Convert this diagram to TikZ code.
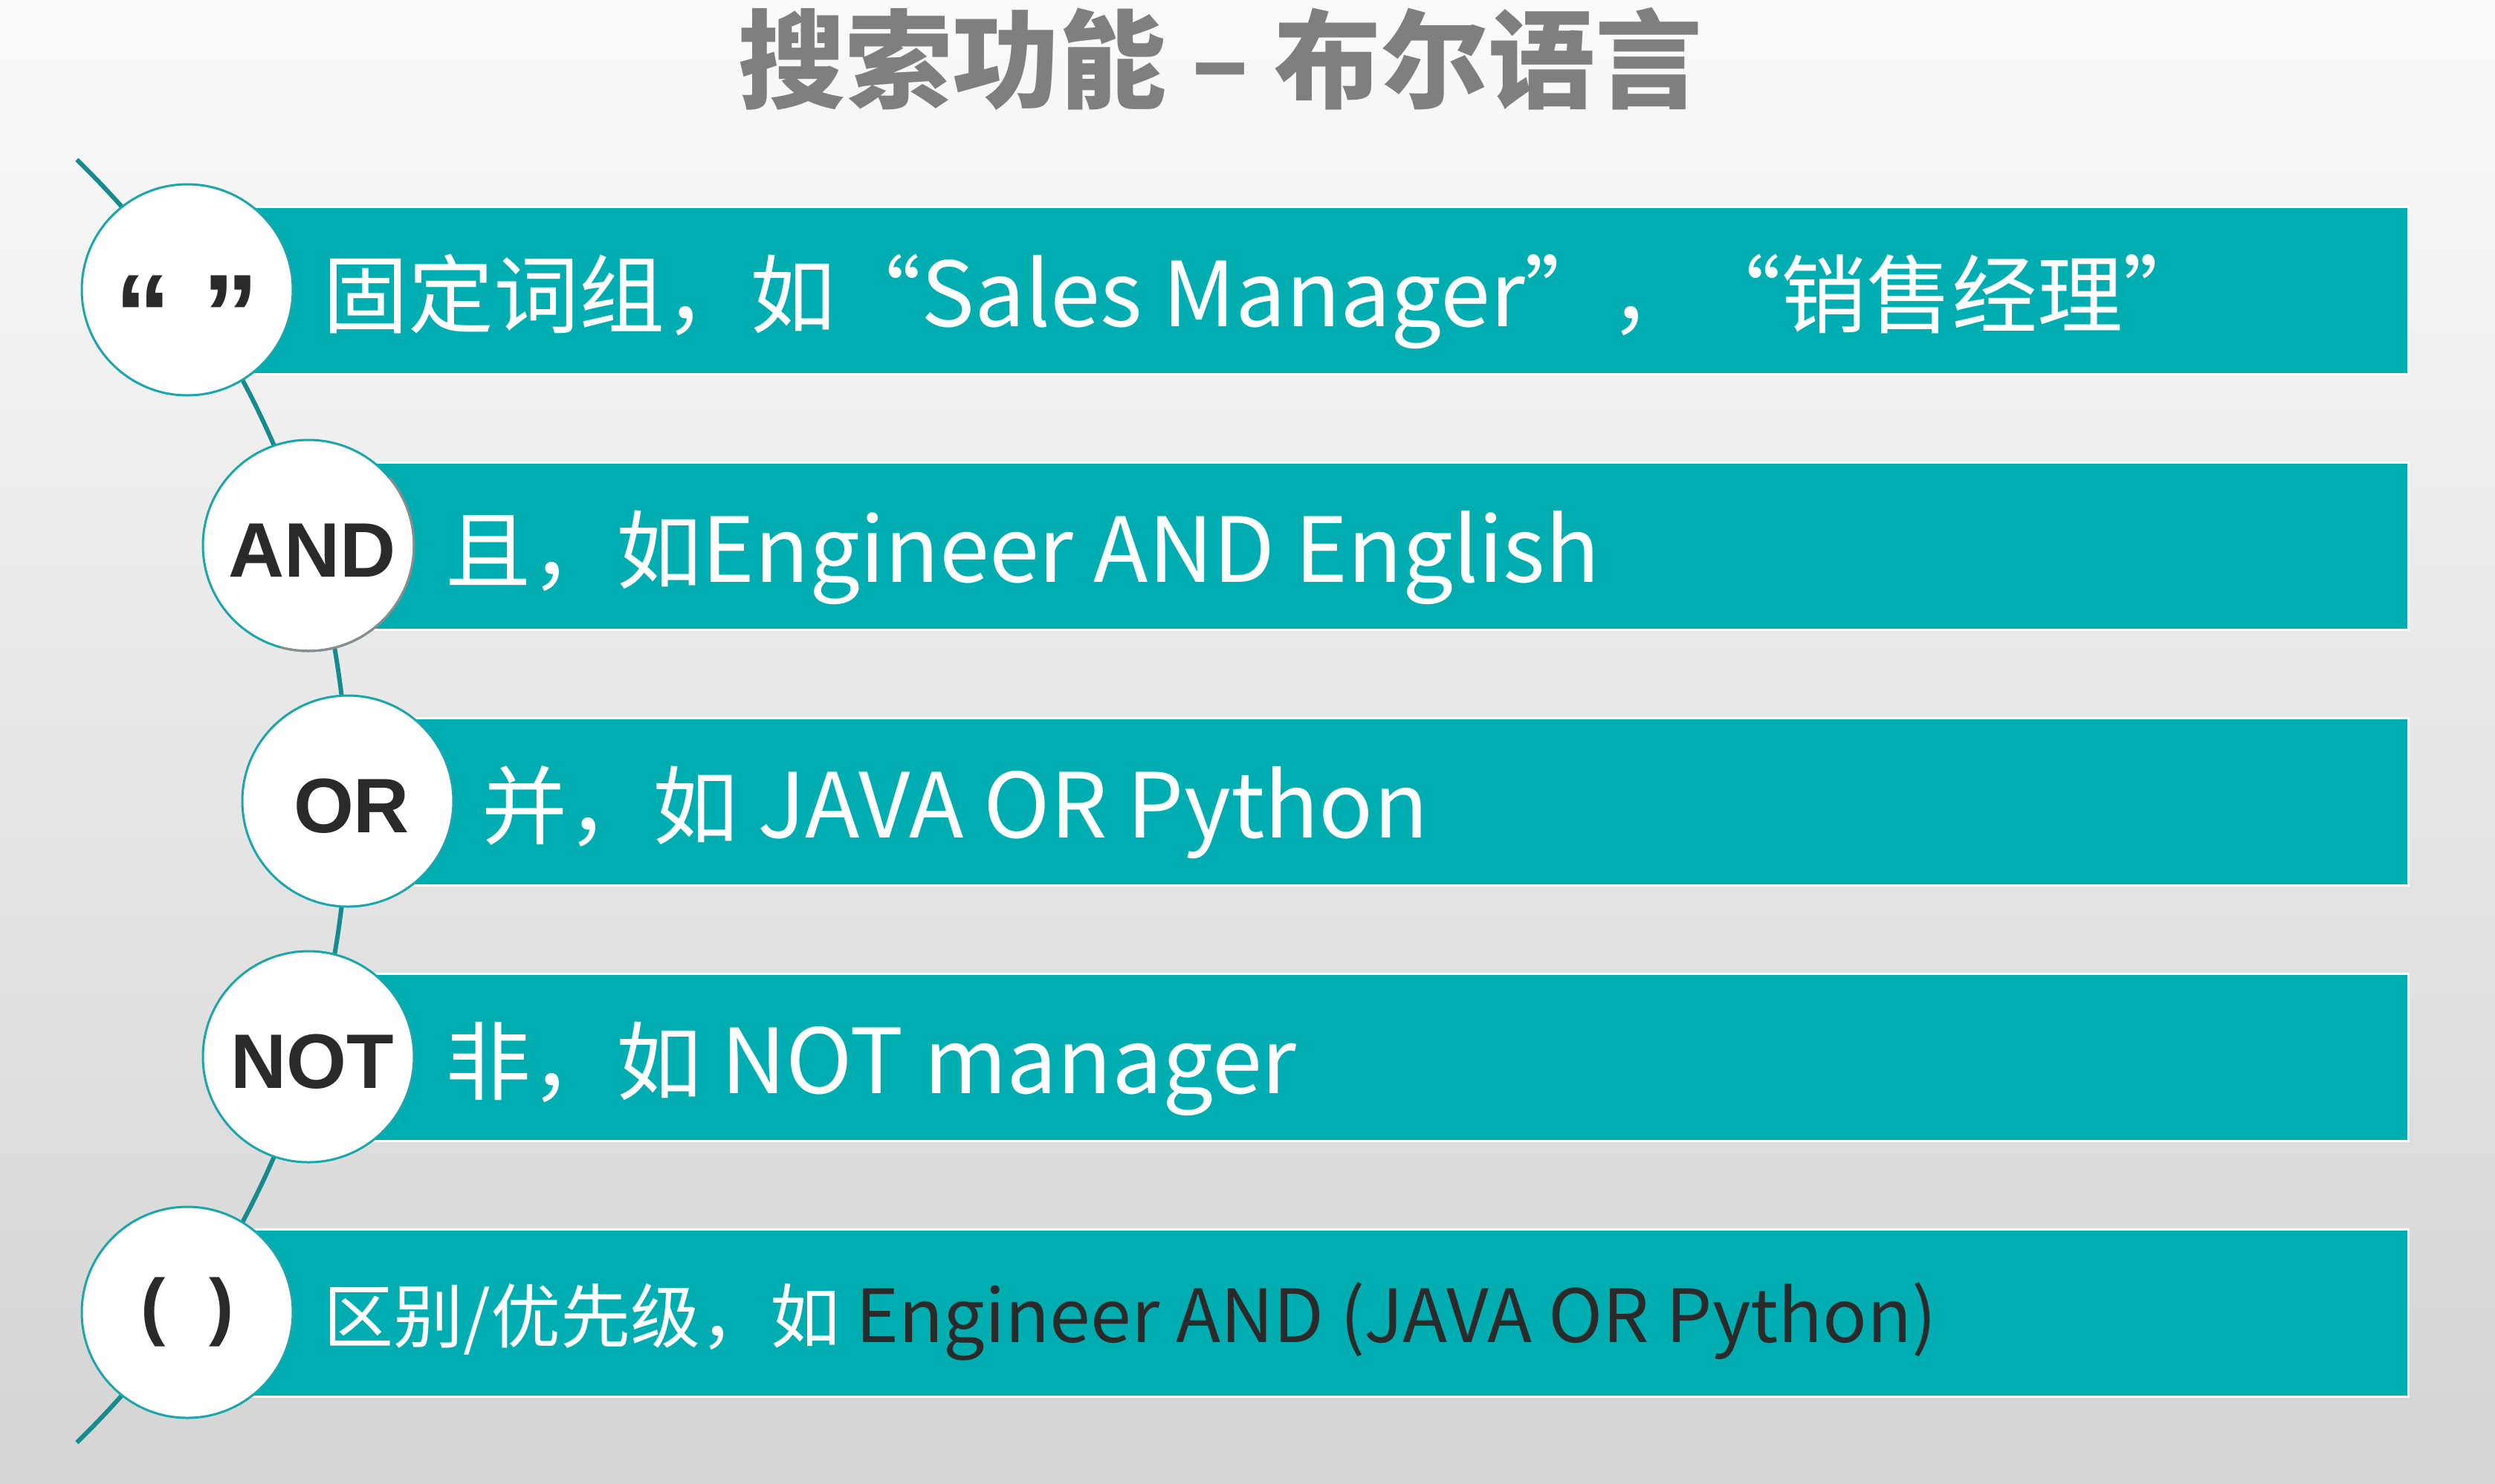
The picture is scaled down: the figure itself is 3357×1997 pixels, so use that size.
\documentclass[tikz,border=0pt]{standalone}
\usepackage{fontspec}
\setmainfont{Noto Sans CJK SC}
\newfontfamily\labfont{Liberation Sans}
\newfontfamily\fwq{Noto Sans CJK SC}[CharacterWidth=Full]
\newfontfamily\latwide{Noto Sans CJK SC}[Scale=1.05]
\newcommand{\zlq}{{\fwq “}}
\newcommand{\zrq}{{\fwq ”}}
\newcommand{\lat}[1]{{\latwide #1}}
\definecolor{bgTop}{HTML}{FAFAFA}
\definecolor{bgBot}{HTML}{D4D4D4}
\definecolor{barTeal}{HTML}{00AEB2}
\definecolor{spineTeal}{HTML}{168A8D}
\definecolor{ringTeal}{HTML}{1AA6AB}
\definecolor{shadowGray}{HTML}{8C8C8C}
\definecolor{titleGray}{HTML}{7F7F7F}
\definecolor{darkText}{HTML}{2A2A2A}
\begin{document}
\begin{tikzpicture}[x=0.5pt,y=-0.5pt,
  bar/.style={fill=barTeal,draw=white,line width=1.5pt},
  spine/.style={draw=spineTeal,line width=3pt},
  ring/.style={circle,draw=ringTeal,fill=white,line width=1.5pt,minimum size=142pt,inner sep=0pt,text=darkText},
  caps/.style={ring,font=\labfont\bfseries\fontsize{52}{52}\selectfont,text height=42pt,text depth=0pt},
  bartext/.style={anchor=west,inner sep=0pt,text=white,text height=49pt,text depth=0pt,
    font=\fontsize{57.5}{60}\selectfont},
  smalltext/.style={anchor=west,inner sep=0pt,text=white,text height=40pt,text depth=0pt,
    font=\fontsize{47}{50}\selectfont}]
\useasboundingbox (0,0) rectangle (3357,1997);
\shade[top color=bgTop,bottom color=bgBot] (0,0) rectangle (3357,1997);
% title
\node[font=\bfseries\fontsize{72}{74}\selectfont,text=titleGray,inner sep=0pt] (title) at (1642,79) {搜索功能 – 布尔语言};
% spine arc
\coordinate (spineC) at (-736,1078);
\draw[spine] ([shift={(-45.8:1204)}]spineC) arc[start angle=-45.8,end angle=45.8,radius=1204];
% bars
\path[bar] (252,278) rectangle (3240,503);
\path[bar] (415,622) rectangle (3240,847);
\path[bar] (468,966) rectangle (3240,1191);
\path[bar] (415,1310) rectangle (3240,1535);
\path[bar] (252,1654) rectangle (3240,1879);
% circles
\node[ring,font=\labfont\bfseries\fontsize{76}{76}\selectfont,text height=0pt,text depth=0pt] (c1) at (252,390) {\raisebox{-0.56em}{“ ”}};
\node[caps] (c2) at (415,734) {\hspace{5pt}AND};
\draw[shadowGray,line width=1.5pt] ([shift={(-40:142)}]c2.center) arc[start angle=-40,end angle=105,radius=142];
\node[caps] (c3) at (468,1078) {\hspace{5pt}OR};
\node[caps] (c4) at (415,1422) {\hspace{5pt}NOT};
\node[ring,font=\labfont\bfseries\fontsize{50}{50}\selectfont] (c5) at (252,1766) {(\hspace{0.58em})};
% texts
\node[bartext] (t1) at (434,390) {固定词组，如\zlq\lat{Sales Manager}\zrq，\zlq 销售经理\zrq};
\node[bartext] (t2) at (599,734) {且，如\lat{Engineer AND English}};
\node[bartext] (t3) at (648,1078) {并，如 \lat{JAVA OR Python}};
\node[bartext] (t4) at (599,1422) {非，如 \lat{NOT manager}};
\node[smalltext] (t5) at (435,1766) {区别/优先级，如 {\color{darkText}\lat{Engineer AND (JAVA OR Python)}}};
\end{tikzpicture}
\end{document}
